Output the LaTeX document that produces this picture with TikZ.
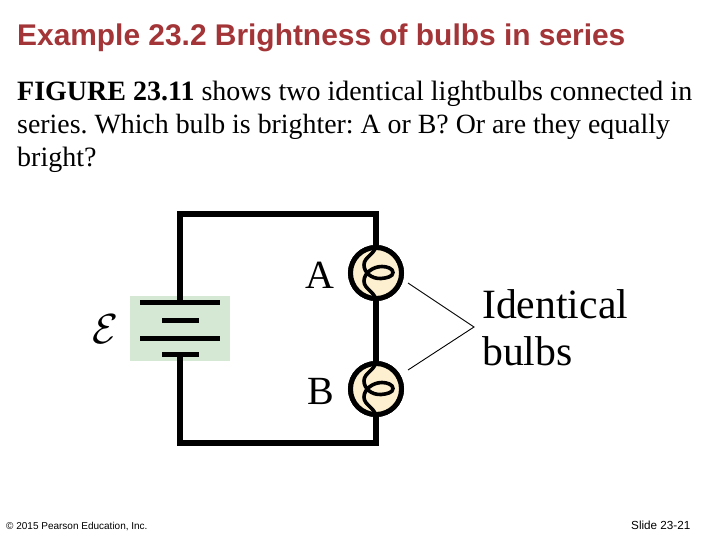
\documentclass[tikz,border=0pt]{standalone}
\usepackage{fontspec}
\setmainfont{Liberation Serif}
\newfontfamily\arialf{Liberation Sans}
\definecolor{titlered}{RGB}{163,52,55}
\definecolor{batgreen}{RGB}{212,232,212}
\definecolor{bulbfill}{RGB}{253,240,208}
\tikzset{
  wire/.style={line width=5.5pt,black},
  plate/.style={line width=5pt,black},
  bulb/.style={circle,draw=black,line width=5pt,fill=bulbfill,minimum size=51pt,inner sep=0pt},
  filament/.style={line width=3.6pt,black},
  leader/.style={line width=0.9pt,black},
  titletext/.style={anchor=base west,inner sep=0pt,font=\arialf\bfseries\fontsize{29.9}{32}\selectfont,text=titlered},
  bodytext/.style={anchor=base west,inner sep=0pt,font=\frenchspacing\fontsize{28}{30}\selectfont},
  figlabel/.style={anchor=base west,inner sep=0pt,text=black},
  foot/.style={anchor=base west,inner sep=0pt,font=\arialf\fontsize{10}{12}\selectfont}
}
\newcommand{\filamentpath}[1]{%
  \draw[filament,shift={(#1)}] (0,-27) .. controls (-2,-18) and (-12,-16) .. (-12,-8)
    .. controls (-12,-1) and (-5,6) .. (5,5.5)
    .. controls (11,5) and (17,3.5) .. (17,-0.5)
    .. controls (17,-4.5) and (11,-6.5) .. (6,-6.5)
    .. controls (-3,-6.5) and (-12,0) .. (-12,8)
    .. controls (-12,16) and (-2,18) .. (0,27);
}
\begin{document}
\begin{tikzpicture}[x=1pt,y=-1pt]
\useasboundingbox (0,0) rectangle (720,540);
\fill[white] (0,0) rectangle (720,540);
\node[titletext] (title) at (17,45.5) {Example 23.2 Brightness of bulbs in series};
\node[bodytext] (l1) at (17,101) {\textbf{FIGURE 23.11} shows two identical lightbulbs connected in};
\node[bodytext,font=\frenchspacing\fontsize{27.85}{30}\selectfont] (l2) at (17,134) {series. Which bulb is brighter: A or B? Or are they equally};
\node[bodytext] (l3) at (17,167) {bright?};
\node[fill=batgreen,minimum width=100pt,minimum height=65pt,inner sep=0pt] (bat) at (180,328.5) {};
\coordinate (tl) at (180,214);
\coordinate (tr) at (376,214);
\coordinate (bl) at (180,443);
\coordinate (br) at (376,443);
\coordinate (batT) at (180,302);
\coordinate (batB) at (180,354);
\node[bulb] (A) at (376,273) {};
\node[bulb] (B) at (376,389) {};
\draw[wire,line join=miter] (batT) -- (tl) -- (tr) -- (A);
\draw[wire] (A) -- (B);
\draw[wire,line join=miter] (B) -- (br) -- (bl) -- (batB);
\node[bulb] at (A) {};
\node[bulb] at (B) {};
\filamentpath{A}
\filamentpath{B}
\draw[plate] (140,302.5) -- (220,302.5);
\draw[plate] (162,320.5) -- (199,320.5);
\draw[plate] (140,338.5) -- (220,338.5);
\draw[plate] (162,354) -- (199,354);
\node[inner sep=0pt,scale=4.2] (emf) at (105,329) {$\mathcal{E}$};
\node[figlabel,font=\fontsize{40}{42}\selectfont] (la) at (305,288) {A};
\node[figlabel,font=\fontsize{40}{42}\selectfont] (lb) at (307,404) {B};
\node[figlabel,font=\fontsize{41.7}{44}\selectfont] (id1) at (482,318) {Identical};
\node[figlabel,font=\fontsize{41.7}{44}\selectfont] (id2) at (482,365) {bulbs};
\coordinate (lA) at (408,283);
\coordinate (lM) at (474,327);
\coordinate (lB) at (408,370);
\draw[leader] (lA) -- (lM) -- (lB);
\node[foot] (c) at (6,529) {© 2015 Pearson Education, Inc.};
\node[foot,font=\arialf\fontsize{11.7}{12}\selectfont] (s) at (631,529) {Slide 23-21};
\end{tikzpicture}
\end{document}
